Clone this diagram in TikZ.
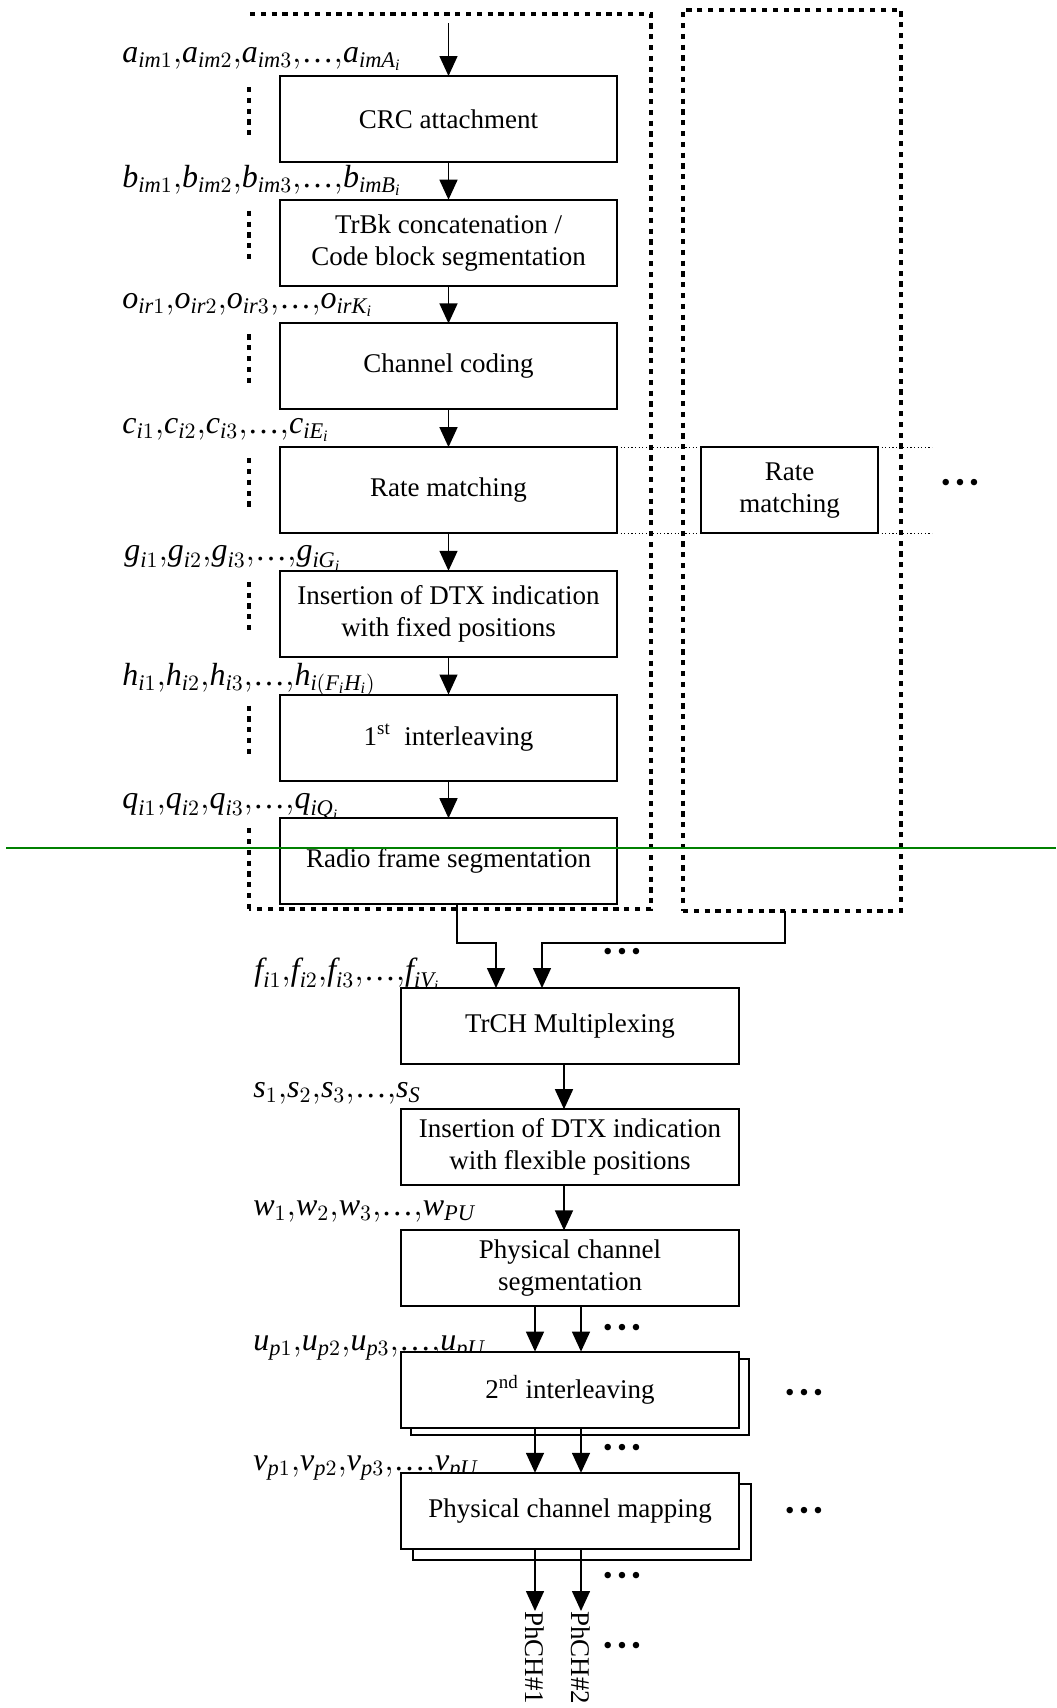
\documentclass[tikz,border=0pt]{standalone}
\usepackage{amsmath}
\usepackage{fontspec}
\setmainfont{Liberation Serif}
\usetikzlibrary{arrows.meta,positioning}
\newcommand\chseq[3]{$\textit{#1}_{\textit{#2}1}{,}\textit{#1}_{\textit{#2}2}{,}\textit{#1}_{\textit{#2}3}{,}\text{\textellipsis}{,}\textit{#1}_{#3}$}
\newcommand\moredots{\textbullet\hspace{2.3pt}\textbullet\hspace{2.3pt}\textbullet}
\tikzset{
  procbox/.style = {draw, line width=1pt, fill=white, inner sep=0pt,
    outer sep=0pt, align=center, font=\fontsize{13.5}{16}\selectfont},% processing block
  upbox/.style = {procbox, minimum width=168.5pt, minimum height=43pt},% per transport channel
  lowbox/.style = {procbox, minimum width=169pt, minimum height=38pt},% after multiplexing
  seqlab/.style = {anchor=base west, inner sep=0pt,
    font=\fontsize{16}{18}\selectfont},% bit sequence
  flow/.style = {line width=0.75pt, -{Triangle[length=10pt,width=9pt]}},
  chanframe/.style = {line width=2.2pt, dash pattern=on 2.6pt off 2.8pt},% one TrCH
  thindots/.style = {line width=0.5pt, dash pattern=on 0.6pt off 1.2pt},
  etc/.style = {inner sep=0pt, font=\fontsize{13.5}{16}\selectfont},
  phch/.style = {rotate=-90, anchor=west, inner sep=0pt,
    font=\fontsize{13.5}{16}\selectfont}
}
\begin{document}
\begin{tikzpicture}[x=0.5pt, y=-0.5pt, node distance=18.85pt]
\useasboundingbox (0,0) rectangle (1056,1708);
\node[seqlab] (la) at (122,62) {\chseq{a}{im}{\textit{imA}_{\textit{i}}}};
\node[seqlab] (lb) at (122,187) {\chseq{b}{im}{\textit{imB}_{\textit{i}}}};
\node[seqlab] (lo) at (122,308) {\chseq{o}{ir}{\textit{irK}_{\textit{i}}}};
\node[seqlab] (lc) at (122,433) {\chseq{c}{i}{\textit{iE}_{\textit{i}}}};
\node[seqlab] (lg) at (124,560) {\chseq{g}{i}{\textit{iG}_{\textit{i}}}};
\node[seqlab] (lh) at (122,685) {\chseq{h}{i}{\textit{i}(\textit{F}_{\textit{i}}\textit{H}_{\textit{i}})}};
\node[seqlab] (lq) at (122,808) {\chseq{q}{i}{\textit{iQ}_{\textit{i}}}};
\node[seqlab] (lf) at (254,980) {\chseq{f}{i}{\textit{iV}_{\textit{i}}}};
\node[seqlab] (ls) at (253,1097) {\chseq{s}{}{\textit{S}}};
\node[seqlab] (lw) at (253,1215) {\chseq{w}{}{\textit{PU}}};
\node[seqlab] (lu) at (253,1350) {\chseq{u}{p}{\textit{pU}}};
\node[seqlab] (lv) at (253,1470) {\chseq{v}{p}{\textit{pU}}};

\node[upbox] (crc) at (448.5,119) {CRC attachment};
\node[upbox, below=of crc] (seg) {TrBk concatenation /\\Code block segmentation};
\node[upbox, below=of seg] (cod) {Channel coding};
\node[upbox, below=of cod] (rm) {Rate matching};
\node[upbox, below=of rm] (dtx) {Insertion of DTX indication\\with fixed positions};
\node[upbox, below=of dtx] (il1) {1\textsuperscript{st}\ \ interleaving};
\node[upbox, below=of il1] (rfs) {Radio frame segmentation};
\node[procbox, minimum width=88.5pt, minimum height=43pt, right=42pt of rm] (rm2) {Rate\\matching};

\coordinate (lft) at (249,0);
\coordinate (rmend) at (932,0);
\draw[chanframe] (250,14) -- (651,14) -- (651,909) -- (249,909);
\foreach \b in {crc,seg,cod,rm,dtx,il1}
  \draw[chanframe] ([yshift=-5.5pt]\b.north -| lft) -- ++(0,53);
\draw[chanframe] ([yshift=-5pt]rfs.north -| lft) -- ++(0,81);
\node[chanframe, draw, inner sep=0pt, outer sep=0pt, minimum width=109pt,
  minimum height=450.5pt] (ch2) at (792,460.5) {};
\draw[thindots] (rm.north east) -- (rm2.north west) (rm2.north east) -- (rm2.north east -| rmend);
\draw[thindots] (rm.south east) -- (rm2.south west) (rm2.south east) -- (rm2.south east -| rmend);
\node[etc] (rmdots) at (960,485) {\moredots};

\coordinate (in) at (448.5,23);
\draw[flow] (in) -- (crc);
\foreach \a/\b in {crc/seg,seg/cod,cod/rm,rm/dtx,dtx/il1,il1/rfs}
  \draw[flow] (\a) -- (\b);

\node[lowbox] (mux) at (570,1026) {TrCH Multiplexing};
\node[lowbox, below=22.6pt of mux] (dtx2) {Insertion of DTX indication\\with flexible positions};
\node[lowbox, below=22.6pt of dtx2] (pcs) {Physical channel\\segmentation};
\node[lowbox, below=22.6pt of pcs, xshift=5pt, yshift=-3.75pt] (il2b) {};
\node[lowbox, below=22.6pt of pcs] (il2) {2\textsuperscript{nd} interleaving};
\node[lowbox, below=22.6pt of il2, xshift=6pt, yshift=-5.5pt] (pcmb) {};
\node[lowbox, below=22.6pt of il2] (pcm) {Physical channel mapping};
\node[phch] (ph1) at (535,1611) {PhCH\#1};
\node[phch] (ph2) at (581,1611) {PhCH\#2};

\draw[flow] ([xshift=4.25pt]rfs.south) -- ++(0,39) -| ([xshift=-37pt]mux.north);
\draw[flow] ([xshift=-3.5pt]ch2.south) -- ++(0,32) -| ([xshift=-14pt]mux.north);
\draw[flow] ([xshift=-3pt]mux.south) -- ([xshift=-3pt]dtx2.north);
\draw[flow] ([xshift=-3pt]dtx2.south) -- ([xshift=-3pt]pcs.north);
\foreach \a/\b in {pcs/il2,il2/pcm} {
  \draw[flow] ([xshift=-17.5pt]\a.south) -- ([xshift=-17.5pt]\b.north);
  \draw[flow] ([xshift=5.5pt]\a.south) -- ([xshift=5.5pt]\b.north);
}
\draw[flow] ([xshift=-17.5pt]pcm.south) -- (ph1.west);
\draw[flow] ([xshift=5.5pt]pcm.south) -- (ph2.west);

\node[etc] (muxdots) at (622,954) {\moredots};
\node[etc] (pcsdots) at (622,1330) {\moredots};
\node[etc] (il2dots) at (804,1395) {\moredots};
\node[etc] (vdots) at (622,1450) {\moredots};
\node[etc] (pcmdots) at (804,1513) {\moredots};
\node[etc] (outdots) at (622,1578) {\moredots};
\node[etc] (phdots) at (622,1648) {\moredots};

\coordinate (gl) at (6,848);
\coordinate (gr) at (1056,848);
\draw[green!50!black, line width=0.75pt] (gl) -- (gr);
\end{tikzpicture}
\end{document}
